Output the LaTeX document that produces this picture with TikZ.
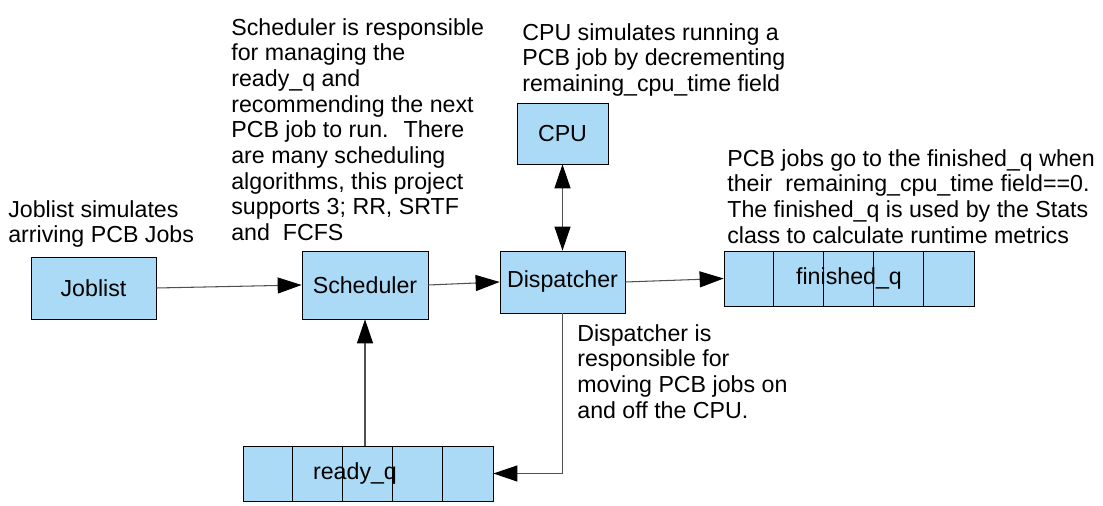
\documentclass[tikz,border=0pt]{standalone}
\usepackage{fontspec}
\setmainfont{Liberation Sans}
\usetikzlibrary{calc,arrows.meta}

\definecolor{boxblue}{RGB}{170,218,245}
\definecolor{linegray}{RGB}{80,80,80}

\newcommand{\boxfont}{\fontsize{13.2pt}{14.6pt}\selectfont}
\def\px{0.02cm}

\tikzset{
	box/.style={draw, fill=boxblue, inner sep=0pt, font=\boxfont},
	queue/.style={box, minimum width=250*\px, minimum height=55*\px},
	note/.style={anchor=north west, align=left, inner sep=0pt, font=\boxfont},
	tip/.style={Triangle[length=24*\px, width=16*\px, color=black]},
	arr/.style={draw=linegray, line width=0.6pt, -{Triangle[length=0.48cm, width=0.32cm, color=black]}},
	darr/.style={draw=linegray, line width=0.6pt, {Triangle[length=0.48cm, width=0.32cm, color=black]}-{Triangle[length=0.48cm, width=0.32cm, color=black]}}
}

\begin{document}
\begin{tikzpicture}[x=\px, y=-\px]

	\useasboundingbox (0,0) rectangle (1103,506);

	% ---- boxes

	\node[box, minimum width=125*\px, minimum height=62*\px] (joblist) at (93.5,288) {Joblist};
	\node[box, minimum width=126*\px, minimum height=68*\px] (sched) at (365,285) {Scheduler};
	\node[box, minimum width=125*\px, minimum height=62*\px] (disp) at (562.5,282) {Dispatcher};
	\node[box, minimum width=91*\px, minimum height=61*\px] (cpu) at (562.5,133.5) {CPU};

	% ---- queues

	\def\cellw{50}

	\node[queue] (finq) at (849,278.5) {};
	\node[queue] (readyq) at (368,473.5) {};

	\foreach \q in {finq,readyq} {
		\foreach \i in {1,...,4} {
			\draw ($(\q.north west)+(\i*\cellw,0)$) -- ($(\q.south west)+(\i*\cellw,0)$);
		}
	}

	\node[font=\boxfont] at (finq) {finished\_q};
	\node[font=\boxfont] at ($(readyq)+(-13,0)$) {ready\_q};

	% ---- connectors

	\draw[arr] (joblist.east) -- (sched.west);
	\draw[arr] (sched.east) -- (disp.west);
	\draw[arr] (disp.east) -- (finq.west);
	\draw[darr] (cpu.south) -- (disp.north);
	\draw[arr] (disp.south) |- (readyq.east);
	\draw[arr] (readyq.north -| sched.south) -- (sched.south);

	% ---- notes

	\node[note] (jobnote) at (8,200) {Joblist simulates\\arriving PCB Jobs};
	\node[note] (schednote) at (231,18) {Scheduler is responsible\\for managing the\\ready\_q and\\recommending the next\\PCB job to run.~ There\\are many scheduling\\algorithms, this project\\supports 3; RR, SRTF\\and~ FCFS};
	\node[note] (cpunote) at (522,23) {CPU simulates running a\\PCB job by decrementing\\remaining\_cpu\_time field};
	\node[note] (finnote) at (727,149) {PCB jobs go to the finished\_q when\\their~ remaining\_cpu\_time field==0.\\The finished\_q is used by the Stats\\class to calculate runtime metrics};
	\node[note] (dispnote) at (577,324) {Dispatcher is\\responsible for\\moving PCB jobs on\\and off the CPU.};

\end{tikzpicture}
\end{document}
